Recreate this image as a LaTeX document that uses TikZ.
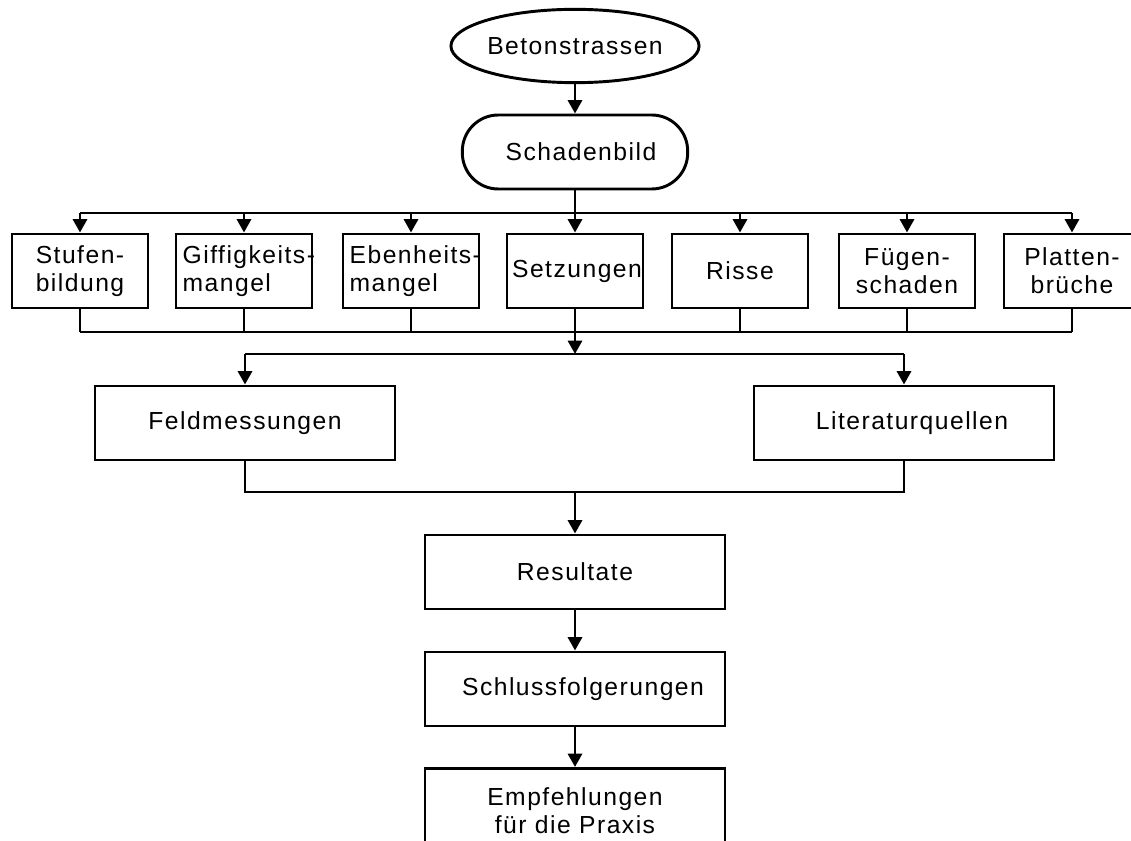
\documentclass[tikz,border=0pt]{standalone}
\usepackage{fontspec}
\setmainfont{Liberation Sans}[LetterSpace=6]
\usetikzlibrary{shapes.geometric, arrows.meta, positioning, calc}

\tikzset{
  x=0.75pt, y=-0.75pt,
  every node/.style={font=\fontsize{18.5}{21}\selectfont},
  conn/.style={line width=2.2pt},
  arr/.style={conn, -{Triangle[length=10pt,width=10.5pt]}},
  box/.style={draw, conn, minimum width=102pt, minimum height=55.5pt, align=center, inner sep=0pt},
  boxleft/.style={box, text width=92pt, align=left},
  wide/.style={box, minimum width=225pt}
}

\begin{document}
\begin{tikzpicture}
    \useasboundingbox (0,0) rectangle (1131,841);
    \clip (0,0) rectangle (1131,841);

    % Kopf
    \node[draw, conn, ellipse, minimum width=169.5pt, minimum height=55pt, inner sep=0pt] (beton) at (575,46) {Betonstrassen};
    \node[draw, conn, rounded corners=27pt, minimum width=169pt, minimum height=55.5pt] (schaden) at (575,152) {\hspace{9pt}Schadenbild};
    \draw[arr] (beton) -- (schaden);

    % Schadenarten
    \node[box] (stufen) at (80,271) {Stufen-\\bildung};
    \node[boxleft] (giff) at (244,271) {\mbox{Giffigkeits-}\\mangel};
    \node[boxleft] (eben) at (411,271) {\mbox{Ebenheits-}\\mangel};
    \node[box] (setz) at (575,271) {\hspace{3pt}Setzungen};
    \node[box] (risse) at (740,271) {Risse};
    \node[box] (fuegen) at (907,271) {Fügen-\\schaden};
    \node[box] (platten) at (1072,271) {Platten-\\brüche};

    \coordinate (bus1) at (575,213);
    \coordinate (bus2) at (575,332);
    \draw[conn] (schaden) -- (bus1);
    \draw[conn] (stufen.north |- bus1) -- (platten.north |- bus1);
    \draw[conn] (stufen.south |- bus2) -- (platten.south |- bus2);
    \foreach \n in {stufen,giff,eben,setz,risse,fuegen,platten} {
        \draw[arr] (\n.north |- bus1) -- (\n.north);
        \draw[conn] (\n.south) -- (\n.south |- bus2);
    }

    % Quellen
    \node[wide] (feld) at (245,423) {Feldmessungen};
    \node[wide] (lit) at (904,423) {\hspace{12pt}Literaturquellen};

    \coordinate (bus3) at (575,354);
    \coordinate (bus4) at (575,492);
    \draw[arr] (bus2) -- (bus3);
    \draw[conn] (feld.north |- bus3) -- (lit.north |- bus3);
    \draw[arr] (feld.north |- bus3) -- (feld.north);
    \draw[arr] (lit.north |- bus3) -- (lit.north);
    \draw[conn] (feld.south) |- (bus4) -| (lit.south);

    % Auswertung
    \node[wide] (res) at (575,572) {Resultate};
    \node[wide] (schluss) at (575,689) {\hspace{12pt}Schlussfolgerungen};
    \node[wide, minimum height=63pt, anchor=north] (empf) at (575,767) {Empfehlungen\\für die Praxis};

    \draw[arr] (bus4) -- (res);
    \draw[arr] (res) -- (schluss);
    \draw[arr] (schluss) -- (empf);
\end{tikzpicture}
\end{document}
